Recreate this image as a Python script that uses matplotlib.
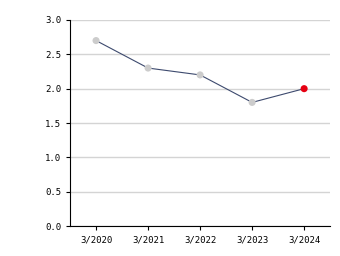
import matplotlib
matplotlib.use("Agg")
import matplotlib.pyplot as plt

years = ['3/2020', '3/2021', '3/2022', '3/2023', '3/2024']
values = [2.7, 2.3, 2.2, 1.8, 2.0]
dot_colors = ['#cccccc', '#cccccc', '#cccccc', '#cccccc', '#e60012']
y_ticks = [0.0, 0.5, 1.0, 1.5, 2.0, 2.5, 3.0]

fig = plt.figure(figsize=(3.4, 2.56), dpi=100)
ax = fig.add_axes([0.206, 0.117, 0.765, 0.805])

x = list(range(len(years)))
ax.plot(x, values, color='#3d4a6e', linewidth=0.8, zorder=2)
ax.scatter(x, values, c=dot_colors, s=26, zorder=3, linewidths=0)

ax.set_xlim(-0.5, 4.5)
ax.set_ylim(0, 3.0)
ax.set_xticks(x)
ax.set_xticklabels(years)
ax.set_yticks(y_ticks)
ax.set_yticklabels([f'{v:.1f}' for v in y_ticks])

ax.grid(axis='y', color='#d4d4d4', linewidth=1.0)
ax.set_axisbelow(True)
for side in ['top', 'right']:
    ax.spines[side].set_visible(False)
for side in ['left', 'bottom']:
    ax.spines[side].set_color('black')
    ax.spines[side].set_linewidth(0.8)

ax.tick_params(axis='both', length=3, width=0.8, labelsize=6.5)
ax.tick_params(axis='x', pad=4)
for lab in ax.get_xticklabels() + ax.get_yticklabels():
    lab.set_family('DejaVu Sans Mono')

fig.savefig('out.png', dpi=100)
